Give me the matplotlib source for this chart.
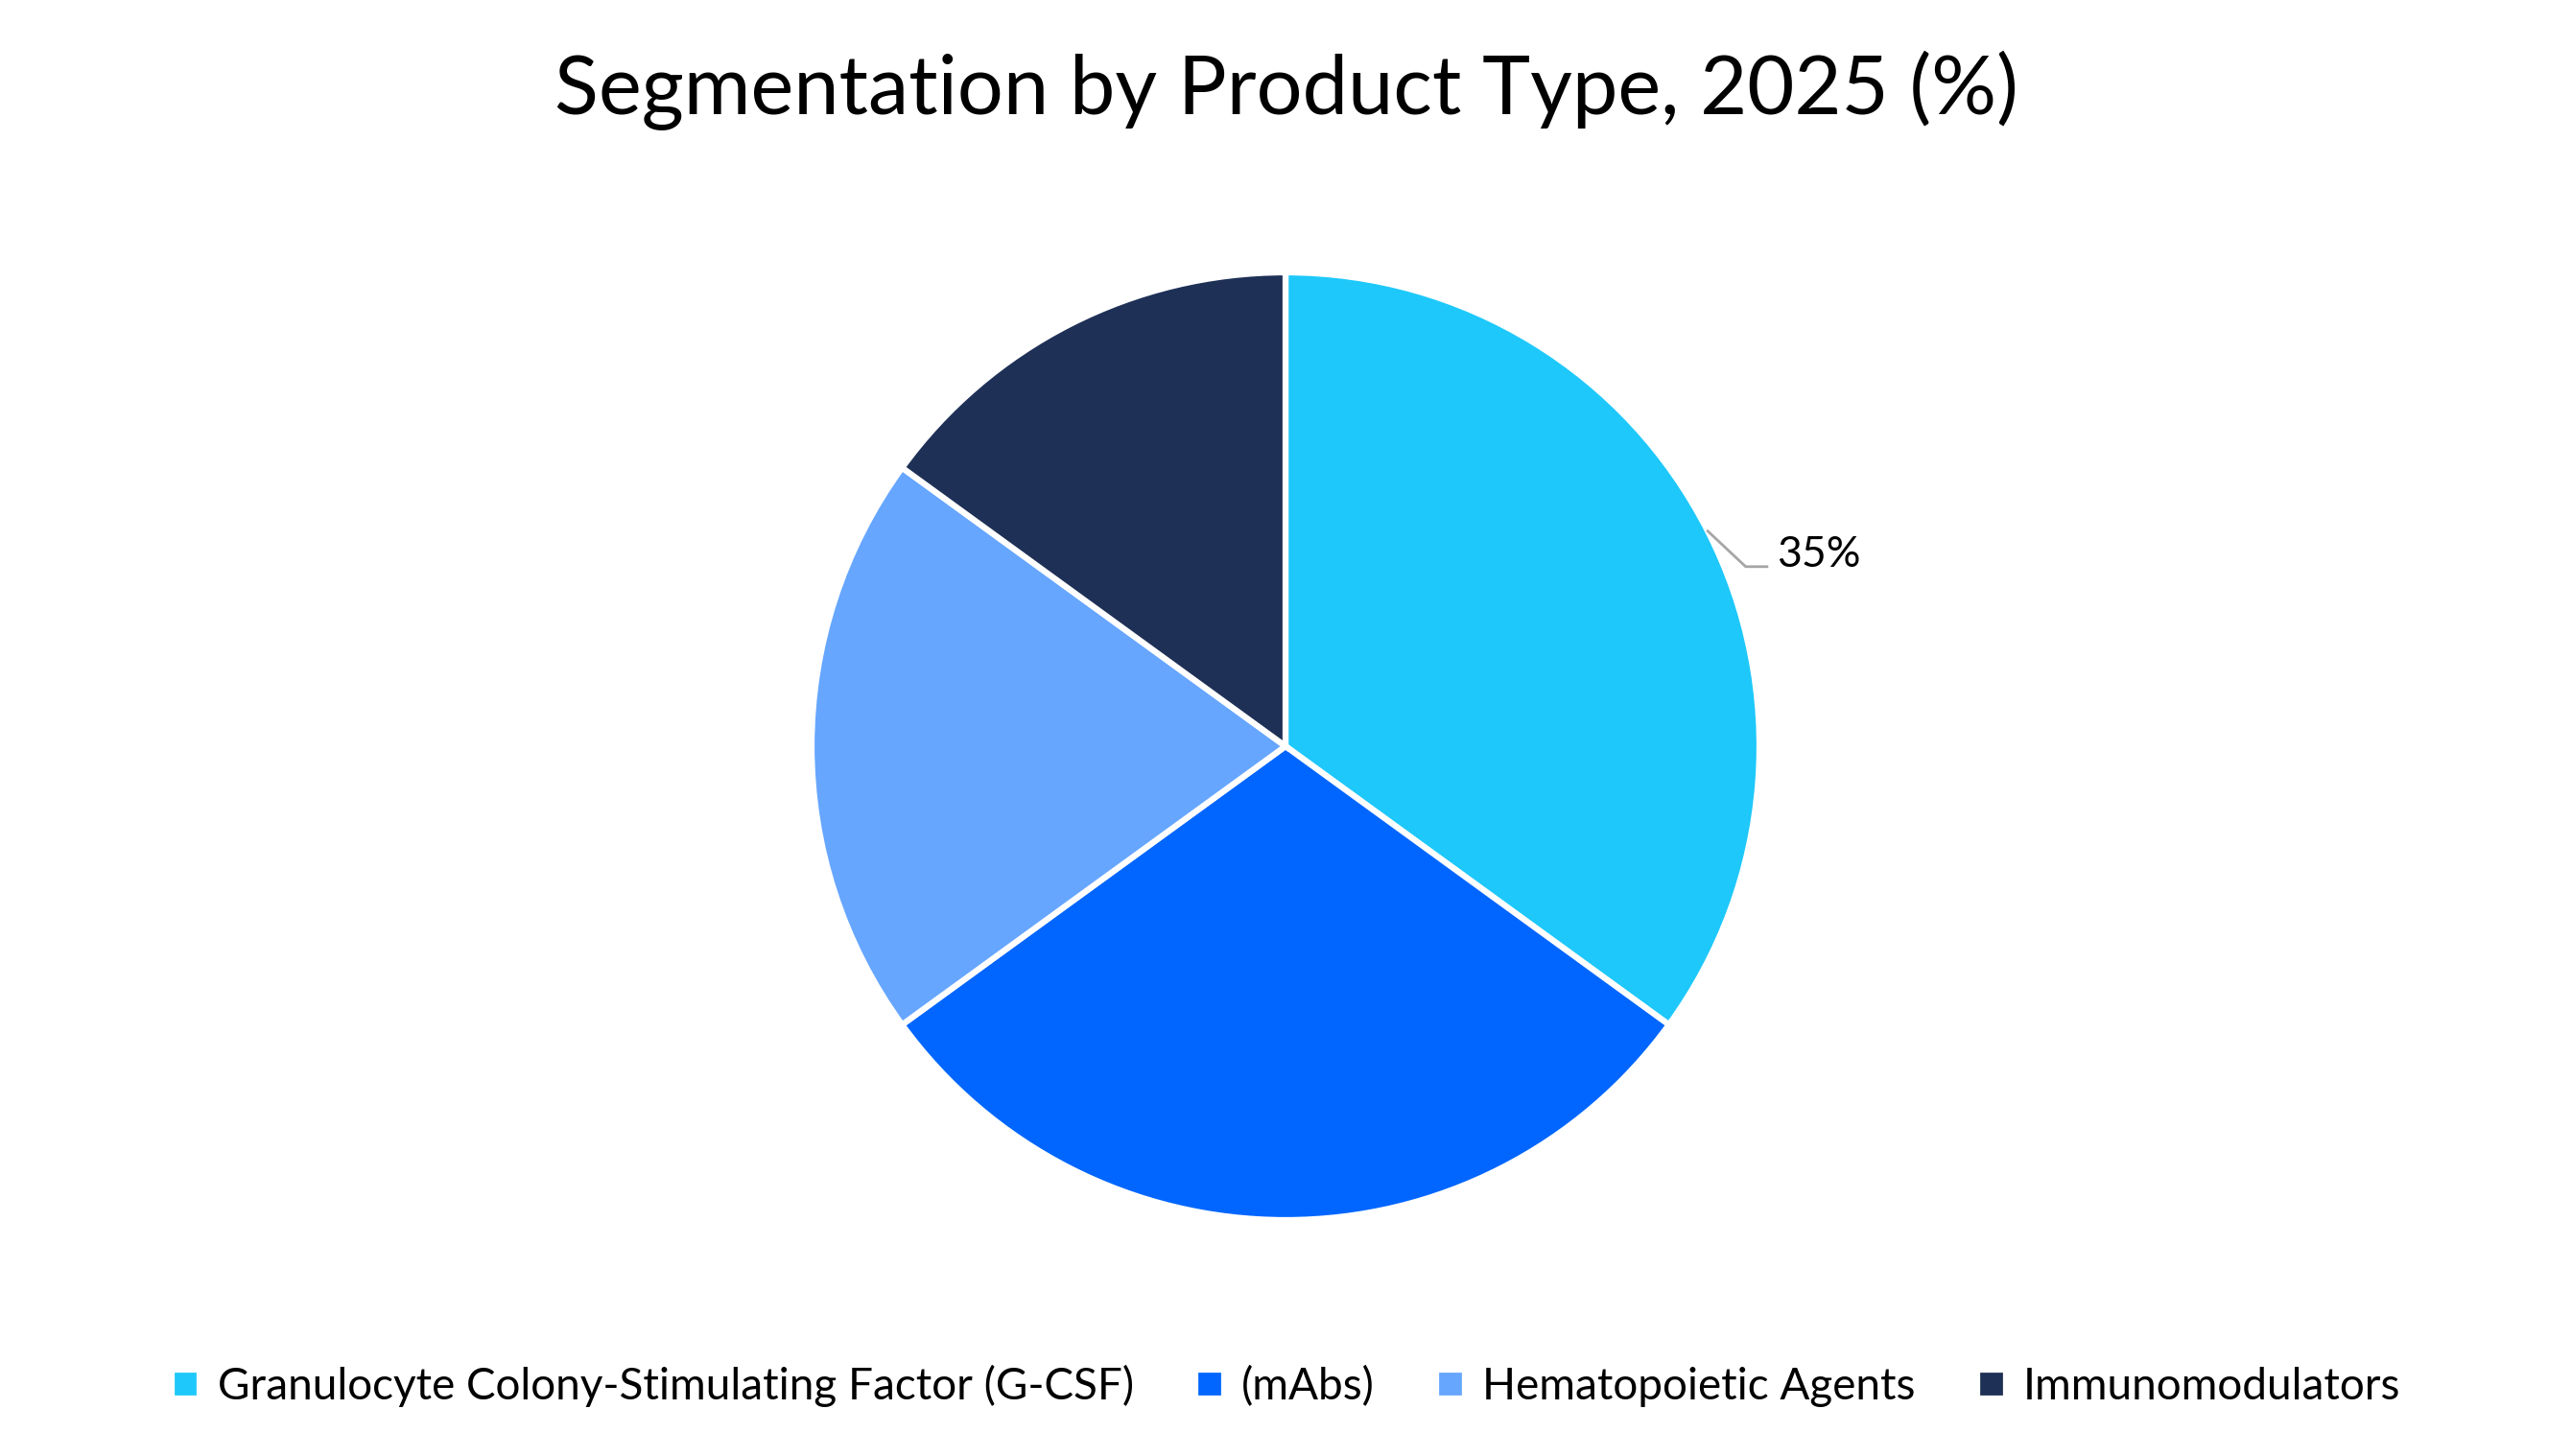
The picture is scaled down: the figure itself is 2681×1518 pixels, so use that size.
import numpy as np
import matplotlib
matplotlib.use("Agg")
import matplotlib.pyplot as plt

plt.rcParams['font.family'] = ['Lato', 'DejaVu Sans']

categories = ['Granulocyte Colony-Stimulating Factor (G-CSF)', '(mAbs)',
              'Hematopoietic Agents', 'Immunomodulators']
shares = [35, 30, 20, 15]
colors = ['#1EC8FA', '#0066FF', '#66A6FF', '#1E3056']
title = 'Segmentation by Product Type, 2025 (%)'

W, H = 2681, 1518
fig = plt.figure(figsize=(W / 100, H / 100), dpi=100)

# pie centre and radius in pixels
cx, cy, r = 1340, 778, 494
ax = fig.add_axes([(cx - r) / W, (H - cy - r) / H, 2 * r / W, 2 * r / H])
wedges, _ = ax.pie(shares, colors=colors, startangle=90, counterclock=False,
                   radius=1, wedgeprops=dict(edgecolor='white', linewidth=4.5))
ax.set_xlim(-1, 1)
ax.set_ylim(-1, 1)
ax.set_aspect('equal')
ax.axis('off')

# only the first slice gets a label
w = wedges[0]
ang = np.deg2rad((w.theta1 + w.theta2) / 2)
x0, y0 = np.cos(ang), np.sin(ang)
ax.plot([x0, x0 + 0.08, x0 + 0.125], [y0, y0 - 0.075, y0 - 0.075],
        color='#A6A6A6', lw=2, clip_on=False)
ax.text(x0 + 0.145, y0 - 0.075, f'{shares[0]}%', fontsize=32,
        va='baseline', ha='left')

fig.text(0.5, 0.938, title, fontsize=61, ha='center', va='center')

fig.legend(wedges, categories, loc='center', bbox_to_anchor=(0.5, 0.048),
           ncol=4, frameon=False, fontsize=33, handlelength=0.65,
           handleheight=0.65, handletextpad=0.4, columnspacing=1.4)

fig.savefig('out.png', dpi=100)
